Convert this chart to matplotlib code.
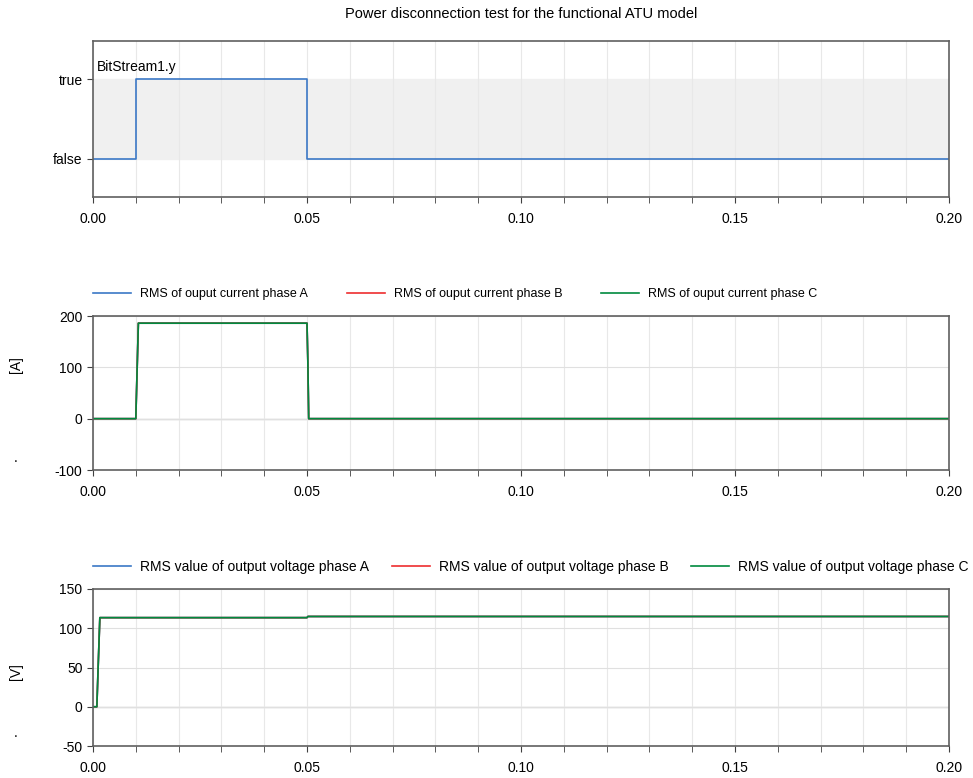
import numpy as np
import matplotlib.pyplot as plt
from matplotlib.ticker import MultipleLocator

plt.rcParams['font.family'] = ['Liberation Sans', 'DejaVu Sans']
plt.rcParams['font.size'] = 10
plt.rcParams['axes.unicode_minus'] = False

# values
bit_t = [0.0, 0.01, 0.05, 0.2]
bit_y = [0, 1, 0, 0]

cur_t = [0.0, 0.0100, 0.0106, 0.0500, 0.0502, 0.0504, 0.2]
cur_a = [0, 0, 186, 186, 110, 0, 0]
cur_b = [0, 0, 186, 186, 110, 0, 0]
cur_c = [0, 0, 186, 186, 110, 0, 0]

volt_t = [0.0, 0.0009, 0.0012, 0.0016, 0.0500, 0.0502, 0.2]
volt_a = [0, 0, 50, 113.5, 113.5, 115, 115]
volt_b = [0, 0, 50, 113.5, 113.5, 115, 115]
volt_c = [0, 0, 50, 113.5, 113.5, 115, 115]

cur_labels = ['RMS of ouput current phase A', 'RMS of ouput current phase B',
              'RMS of ouput current phase C']
volt_labels = ['RMS value of output voltage phase A', 'RMS value of output voltage phase B',
               'RMS value of output voltage phase C']
colors = ['#3b78c6', '#ee2e2f', '#008a3e']

fig = plt.figure(figsize=(9.73, 7.78), dpi=100)
L, W = 93 / 973, 856 / 973
ax1 = fig.add_axes([L, 1 - 197 / 778, W, 156 / 778])
ax2 = fig.add_axes([L, 1 - 470 / 778, W, 154 / 778])
ax3 = fig.add_axes([L, 1 - 746 / 778, W, 157 / 778])


def style(ax):
    ax.set_xlim(0, 0.2)
    ax.xaxis.set_major_locator(MultipleLocator(0.05))
    ax.xaxis.set_minor_locator(MultipleLocator(0.01))
    ax.xaxis.set_major_formatter(plt.FuncFormatter(lambda v, p: f'{v:.2f}'))
    ax.grid(True, which='both', axis='x', color='#e8e8e8', lw=0.8)
    ax.set_axisbelow(True)
    for s in ax.spines.values():
        s.set_color('#606060')
        s.set_linewidth(1.2)
    ax.tick_params(which='both', direction='out', length=4.5, color='#404040',
                   labelsize=10, pad=3)
    ax.tick_params(axis='x', which='major', pad=6)


# panel 1
style(ax1)
ax1.axhspan(0, 1, color='#f0f0f0', zorder=0)
ax1.step(bit_t, bit_y, where='post', color=colors[0], lw=1.2)
ax1.set_ylim(-0.48, 1.48)
ax1.set_yticks([0, 1])
ax1.set_yticklabels(['false', 'true'])
ax1.text(0.0008, 1.06, 'BitStream1.y', fontsize=10, va='bottom')
fig.text(521 / 973, 1 - 14 / 778, 'Power disconnection test for the functional ATU model',
         fontsize=10.5, ha='center', va='center')

# panel 2
style(ax2)
ax2.grid(True, axis='y', color='#e0e0e0', lw=0.8)
for y, lab, c in zip([cur_a, cur_b, cur_c], cur_labels, colors):
    ax2.plot(cur_t, y, color=c, lw=1.2, label=lab)
ax2.axhline(0, color='#c8c8c8', lw=1, zorder=0.5)
ax2.set_ylim(-100, 200)
ax2.set_yticks([-100, 0, 100, 200])
ax2.legend(loc='lower left', bbox_to_anchor=(93 / 973, 1 - 300 / 778),
           bbox_transform=fig.transFigure, ncol=3, frameon=False,
           fontsize=9, handlelength=3.04, handletextpad=0.72, columnspacing=3.1,
           borderaxespad=0, borderpad=0)
fig.text(16 / 973, 1 - 365 / 778, '[A]', rotation=90, ha='center', va='center',
         fontsize=10)
fig.text(16 / 973, 1 - 458 / 778, '.', ha='center', va='center', fontsize=10)

# panel 3
style(ax3)
ax3.grid(True, axis='y', color='#e0e0e0', lw=0.8)
for y, lab, c in zip([volt_a, volt_b, volt_c], volt_labels, colors):
    ax3.plot(volt_t, y, color=c, lw=1.2, label=lab)
ax3.axhline(0, color='#c8c8c8', lw=1, zorder=0.5)
ax3.set_ylim(-50, 150)
ax3.set_yticks([-50, 0, 50, 100, 150])
ax3.legend(loc='lower left', bbox_to_anchor=(93 / 973, 1 - 574 / 778),
           bbox_transform=fig.transFigure, ncol=3, frameon=False,
           fontsize=10, handlelength=2.73, handletextpad=0.65, columnspacing=1.65,
           borderaxespad=0, borderpad=0)
fig.text(16 / 973, 1 - 672 / 778, '[V]', rotation=90, ha='center', va='center',
         fontsize=10)
fig.text(16 / 973, 1 - 733 / 778, '.', ha='center', va='center', fontsize=10)

fig.savefig('out.png', dpi=100)
